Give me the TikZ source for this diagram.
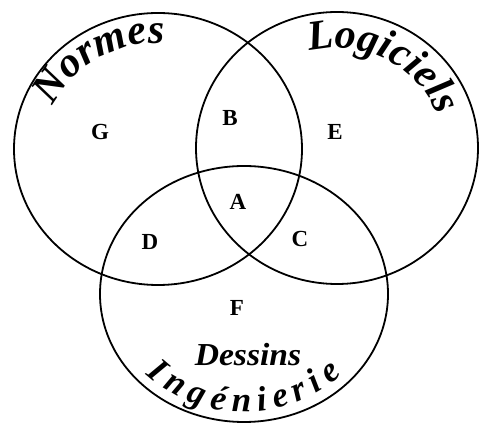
\documentclass[tikz,border=0pt]{standalone}
\usepackage{fontspec}
\setmainfont{Liberation Serif}
\usetikzlibrary{decorations.text}
\begin{document}
\begin{tikzpicture}[x=1pt,y=1pt,
  ring/.style={line width=1.8pt},
  lab/.style={font=\fontsize{23}{23}\selectfont\bfseries, inner sep=0pt}]
\useasboundingbox (0,0) rectangle (480,423);
\fill[white] (0,0) rectangle (480,423);
\coordinate (cl) at (158,274);
\coordinate (cr) at (337,275);
\coordinate (cb) at (244,129);
\draw[ring] (cl) ellipse [x radius=144pt, y radius=136pt];
\draw[ring] (cr) ellipse [x radius=141pt, y radius=136pt];
\draw[ring] (cb) ellipse [x radius=144pt, y radius=128pt];
\node[lab] (G) at (100,291) {G};
\node[lab] (B) at (230,305) {B};
\node[lab] (E) at (335,291) {E};
\node[lab] (A) at (238,221) {A};
\node[lab] (D) at (150,181) {D};
\node[lab] (C) at (300,184) {C};
\node[lab] (F) at (237,115) {F};
\node[font=\fontsize{32}{32}\selectfont\bfseries\itshape, inner sep=0pt, xscale=1.05] (Ds) at (248,68) {Dessins};
\path[decorate, decoration={text along path,
   text={|\fontsize{42}{42}\selectfont\bfseries\itshape|Normes}, text align=center}]
   (cl) ++(170:114pt and 106pt) arc[start angle=170, end angle=74, x radius=114pt, y radius=106pt];
\path[decorate, decoration={text along path,
   text={|\fontsize{42}{42}\selectfont\bfseries\itshape|Logiciels}, text align=center}]
   (cr) ++(110:106pt and 100pt) arc[start angle=110, end angle=14, x radius=106pt, y radius=100pt];
\path[decorate, decoration={text along path,
   text={|\fontsize{35}{35}\selectfont\bfseries\itshape|Ingénierie}, text align=fit to path}]
   (cb) ++(223:134pt and 118pt) arc[start angle=223, end angle=317, x radius=134pt, y radius=118pt];
\end{tikzpicture}
\end{document}
